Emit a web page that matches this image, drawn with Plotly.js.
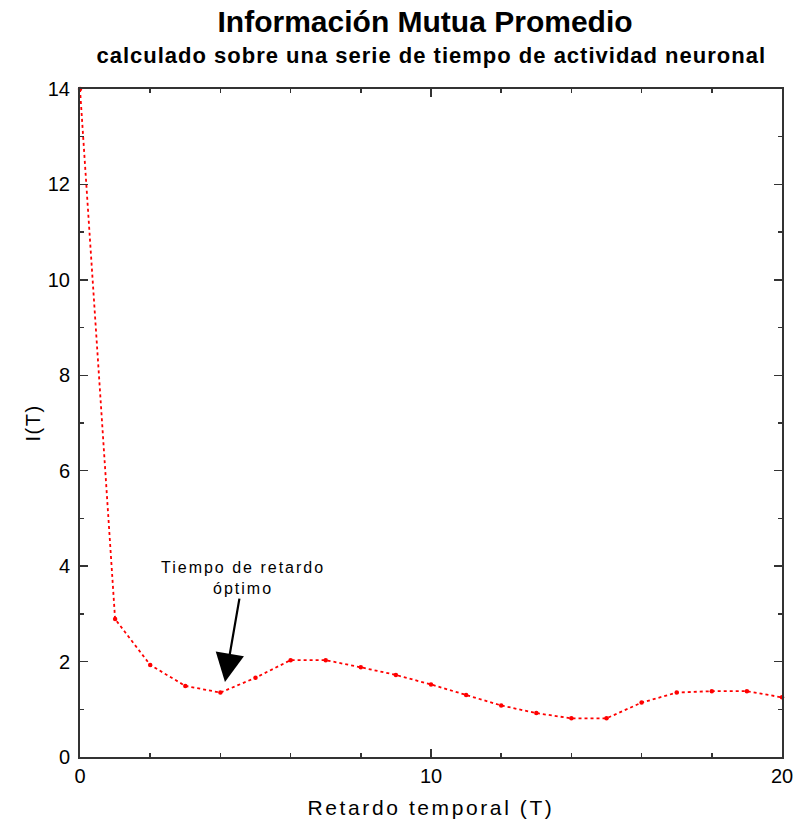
<!DOCTYPE html>
<html>
<head>
<meta charset="utf-8">
<script src="https://cdn.plot.ly/plotly-3.0.1.min.js"></script>
<style>
html,body{margin:0;padding:0;background:#fff;}
#chart{width:793px;height:827px;}
.xtitle{letter-spacing:2.6px;}
.ytitle{letter-spacing:1.5px;}
g.annotation[data-index="0"] text{letter-spacing:1px;}
g.annotation[data-index="1"] text{letter-spacing:2px;}
</style>
</head>
<body>
<div id="chart"></div>
<script>
const lags = [0,1,2,3,4,5,6,7,8,9,10,11,12,13,14,15,16,17,18,19,20];
const mutualInfo = [14.0,2.89,1.93,1.49,1.35,1.66,2.03,2.03,1.88,1.72,1.52,1.30,1.08,0.92,0.81,0.81,1.14,1.35,1.38,1.38,1.25];
const titleText = "Información Mutua Promedio";
const subtitleText = "calculado sobre una serie de tiempo de actividad neuronal";
const xLabel = "Retardo temporal (T)";
const yLabel = "I(T)";
const noteText = "Tiempo de retardo<br>óptimo";
const optimalLag = 4;
const optimalValue = 1.35;

const font = "Liberation Sans, Arial, sans-serif";
const trace = {
  x: lags, y: mutualInfo, type: "scatter", mode: "lines+markers",
  line: {color: "#ff0000", width: 1.8, dash: "dot"},
  marker: {color: "#ff0000", size: 4.5, symbol: "circle"},
  cliponaxis: false, hoverinfo: "skip"
};
const axisCommon = {
  showgrid: false, zeroline: false, showline: true, linecolor: "#333", linewidth: 2,
  mirror: "ticks", ticks: "inside", ticklen: 8, tickwidth: 1.5, tickcolor: "#333",
  tickfont: {family: font, size: 20, color: "#000"}, ticklabeloverflow: "allow",
  minor: {ticks: "inside", ticklen: 4, tickwidth: 1.5, tickcolor: "#333"}
};
const layout = {
  width: 793, height: 827,
  margin: {l: 80, r: 11, t: 89, b: 70},
  paper_bgcolor: "#fff", plot_bgcolor: "#fff",
  showlegend: false,
  title: {text: "<b>" + titleText + "</b>", font: {family: font, size: 30, color: "#000"},
          x: 0.536, xanchor: "center", y: 1 - 21/827, yanchor: "middle", yref: "container"},
  xaxis: Object.assign({}, axisCommon, {range: [0, 20], dtick: 10, tick0: 0,
    minor: Object.assign({}, axisCommon.minor, {dtick: 2}),
    title: {text: xLabel, font: {family: font, size: 21, color: "#000"}, standoff: 14}}),
  yaxis: Object.assign({}, axisCommon, {range: [0, 14], dtick: 2, tick0: 0, ticklabelstandoff: 4,
    minor: Object.assign({}, axisCommon.minor, {dtick: 1}),
    title: {text: yLabel, font: {family: font, size: 20, color: "#000"}, standoff: 2}}),
  annotations: [
    {text: "<b>" + subtitleText + "</b>", xref: "paper", yref: "paper", x: 0.5, y: 1.0 + 34/668,
     xanchor: "center", yanchor: "middle", showarrow: false,
     font: {family: font, size: 22, color: "#000"}},
    {text: noteText, x: optimalLag + 0.13, y: optimalValue + 0.22, xref: "x", yref: "y",
     showarrow: true, ax: 18, ay: -104, arrowhead: 2, arrowsize: 2.6, arrowwidth: 2.2,
     arrowcolor: "#000", font: {family: font, size: 16, color: "#000"}, align: "center"}
  ]
};
Plotly.newPlot("chart", [trace], layout, {displayModeBar: false, staticPlot: true});
</script>
</body>
</html>
